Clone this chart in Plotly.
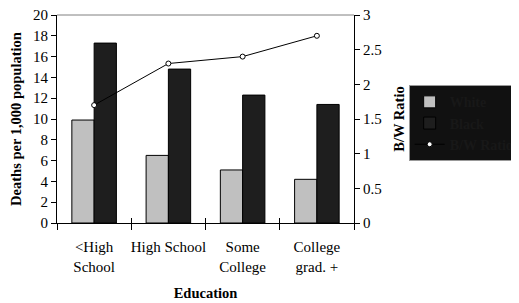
import plotly.graph_objects as go

categories = ["&lt;High<br>School", "High School", "Some<br>College", "College<br>grad. +"]
white = [9.9, 6.5, 5.1, 4.2]
black = [17.3, 14.8, 12.3, 11.4]
ratio = [1.7, 2.3, 2.4, 2.7]

FONT = "Liberation Serif, Times New Roman, Times, serif"

fig = go.Figure()
fig.add_trace(go.Bar(x=categories, y=white, name="White",
                     marker=dict(color="#c0c0c0", line=dict(color="black", width=1))))
fig.add_trace(go.Bar(x=categories, y=black, name="Black",
                     marker=dict(color="#1e1e1e", line=dict(color="black", width=1))))
fig.add_trace(go.Scatter(x=categories, y=ratio, name="B/W Ratio", mode="lines+markers",
                         xaxis="x2", yaxis="y2",
                         line=dict(color="black", width=1),
                         marker=dict(symbol="circle", size=5, color="white",
                                     line=dict(color="black", width=1))))

fig.update_layout(
    width=519, height=303,
    margin=dict(l=49, r=173, t=7, b=88),
    paper_bgcolor="white", plot_bgcolor="white",
    font=dict(family=FONT, color="black", size=15),
    barmode="group", bargap=0.4, bargroupgap=0,
    xaxis=dict(type="category", showline=True, linecolor="black", linewidth=1,
               ticks="outside", tickson="boundaries", ticklen=6, tickcolor="black",
               showgrid=False, tickfont=dict(size=15), tickangle=0, automargin=False,
               ticklabelstandoff=10,
               title=dict(text="<b>Education</b>", font=dict(size=14.5), standoff=14)),
    xaxis2=dict(type="category", overlaying="x", matches="x", showline=False,
                ticks="inside", tickson="boundaries", ticklen=5, tickcolor="black",
                showticklabels=False, showgrid=False, side="bottom", automargin=False),
    yaxis=dict(range=[0, 20], dtick=2, showline=True, linecolor="black", linewidth=1,
               ticks="outside", ticklen=5, tickcolor="black", showgrid=False, zeroline=False,
               tickfont=dict(size=15), automargin=False, ticklabeloverflow="allow",
               title=dict(text="<b>Deaths per 1,000 population</b>", font=dict(size=14.5), standoff=8)),
    yaxis2=dict(range=[0, 3], dtick=0.5, overlaying="y", side="right", anchor="x",
                showline=True, linecolor="black", linewidth=1, automargin=False,
                ticks="outside", ticklen=5, tickcolor="black", showgrid=False, zeroline=False,
                tickfont=dict(size=15), ticklabeloverflow="allow",
                title=dict(text="<b>B/W Ratio</b>", font=dict(size=14.5), standoff=13)),
    legend=dict(xref="container", yref="container", x=0.772, y=0.745,
                xanchor="left", yanchor="top",
                bgcolor="#111111", bordercolor="#999999", borderwidth=1,
                font=dict(family=FONT, size=14, color="#181818", weight="bold"),
                tracegroupgap=0, itemwidth=30),
    shapes=[dict(type="line", xref="paper", yref="paper", x0=0, x1=1, y0=1, y1=1,
                 line=dict(color="#808080", width=1))],
)

fig.write_html("out.html")
